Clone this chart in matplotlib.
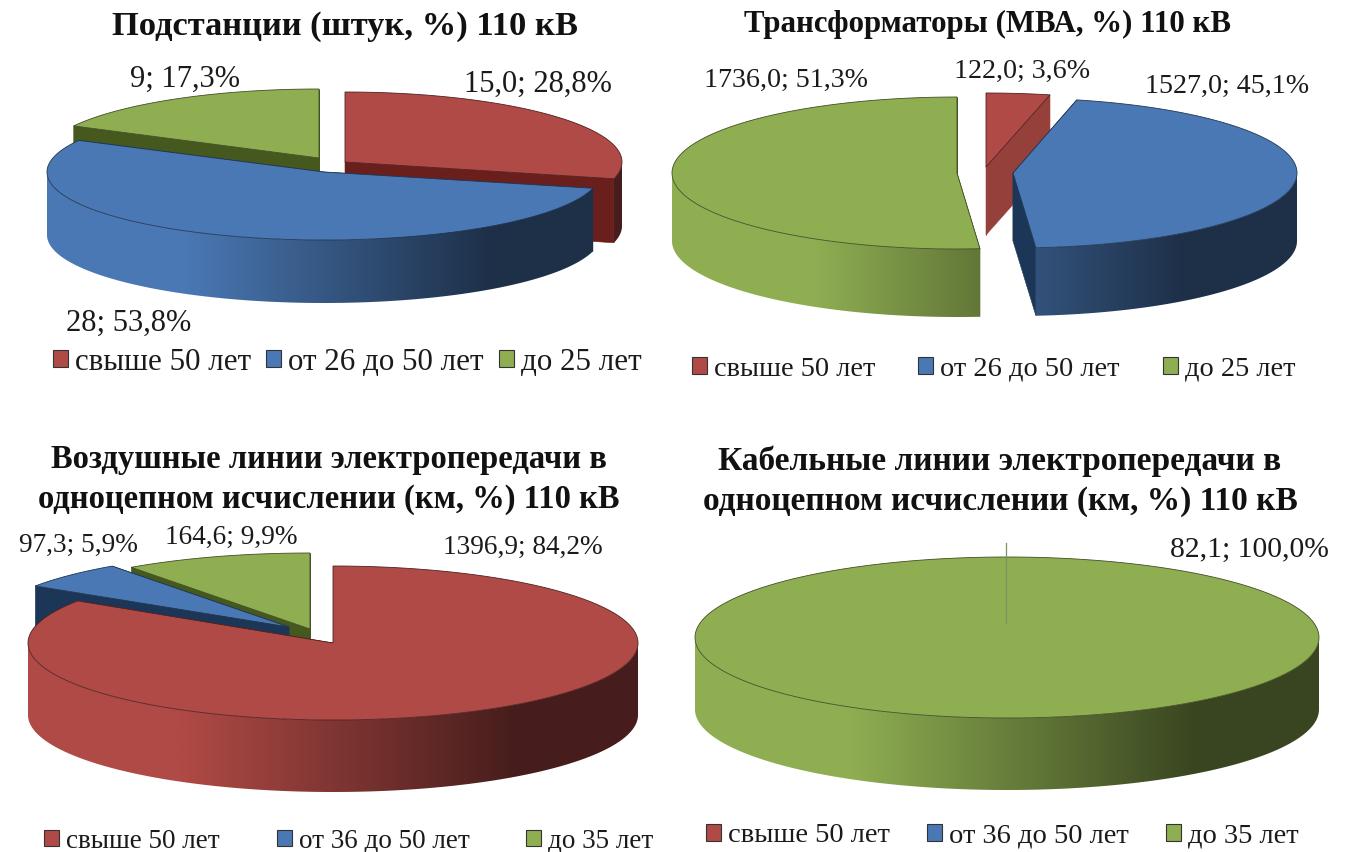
# -*- coding: utf-8 -*-
import matplotlib
matplotlib.use('Agg')
import matplotlib.pyplot as plt
import numpy as np
from matplotlib.colors import to_rgb
from matplotlib.patches import Patch, Polygon

plt.rcParams['font.family'] = ['Liberation Serif', 'DejaVu Serif']

# Data
titles = ['Подстанции (штук, %) 110 кВ',
          'Трансформаторы (МВА, %) 110 кВ',
          'Воздушные линии электропередачи в\nодноцепном исчислении (км, %) 110 кВ',
          'Кабельные линии электропередачи в\nодноцепном исчислении (км, %) 110 кВ']
legend_a = ['свыше 50 лет', 'от 26 до 50 лет', 'до 25 лет']
legend_b = ['свыше 50 лет', 'от 36 до 50 лет', 'до 35 лет']

sub_values = [15.0, 28, 9]
sub_labels = ['15,0; 28,8%', '28; 53,8%', '9; 17,3%']
trans_values = [122.0, 1527.0, 1736.0]
trans_labels = ['122,0; 3,6%', '1527,0; 45,1%', '1736,0; 51,3%']
air_values = [1396.9, 97.3, 164.6]
air_labels = ['1396,9; 84,2%', '97,3; 5,9%', '164,6; 9,9%']
cable_values = [82.1]
cable_labels = ['82,1; 100,0%']

# Colours
RED, BLUE, GREEN = '#b04a46', '#4a78b4', '#8fae52'
CUT_RED, CUT_BLUE, CUT_GREEN = '#6b1f1c', '#1c3658', '#45591f'

fig = plt.figure(figsize=(13.52, 8.52), dpi=100)
ax = fig.add_axes([0, 0, 1, 1])


def shade(color, u):
    # outer wall gets darker from left to right
    t = np.clip((u - 0.25) / 0.55, 0, 1)[:, None]
    return np.array(to_rgb(color))[None, :] * (1 - 0.6 * t)


def rim(cx, cy, rx, ry, ang):
    return cx + rx * np.sin(ang), cy - ry * np.cos(ang)


def draw_slice(start, end, cx, cy, rx, ry, depth, color, cut, z):
    t1, t2 = np.radians(start), np.radians(end)
    edge = tuple(c * 0.45 for c in to_rgb(color))
    arc = np.linspace(t1, t2, 200)
    x, y = rim(cx, cy, rx, ry, arc)
    full = end - start >= 359.9

    # cut faces
    if not full:
        for a in (t1, t2):
            px, py = rim(cx, cy, rx, ry, a)
            ax.add_patch(Polygon([(cx, cy), (px, py), (px, py + depth), (cx, cy + depth)],
                                 closed=True, fc=cut, ec=cut, lw=0.4, zorder=z))

    # outer wall, only the front half of the rim
    w1, w2 = max(start, 90), min(end, 270)
    if w2 > w1:
        a = np.radians(np.linspace(w1, w2, 200))
        wx, wy = rim(cx, cy, rx, ry, a)
        outline = np.vstack([np.column_stack([wx, wy]),
                             np.column_stack([wx[::-1], wy[::-1] + depth])])
        grad = shade(color, np.linspace(0, 1, 400))[None, :, :]
        im = ax.imshow(grad, extent=(cx - rx, cx + rx, cy + ry + depth + 2, cy - ry - 2),
                       aspect='auto', interpolation='bilinear', zorder=z + 0.1)
        im.set_clip_path(Polygon(outline, closed=True, transform=ax.transData))

    # top
    if full:
        pts = np.column_stack([x, y])
    else:
        pts = np.vstack([[cx, cy], np.column_stack([x, y])])
    ax.add_patch(Polygon(pts, closed=True, fc=color, ec=edge, lw=0.6, zorder=z + 0.2))


def draw_pie(values, colors, cuts, geom, order, z):
    shares = np.array(values, dtype=float) / sum(values) * 360
    ends = np.cumsum(shares)
    starts = ends - shares
    for k, i in enumerate(order):
        cx, cy, rx, ry, depth = geom[i]
        draw_slice(starts[i], ends[i], cx, cy, rx, ry, depth, colors[i], cuts[i], z + k)


def add_legend(labels, colors, anchor, size, gap):
    em = size * 100 / 72
    handles = [Patch(fc=c, ec='#333333', lw=0.8) for c in colors]
    fig.legend(handles, labels, ncol=3, loc='center left', bbox_to_anchor=anchor,
               bbox_transform=ax.transData, frameon=False, fontsize=size,
               handlelength=15 / em, handleheight=15 / em, handletextpad=7 / em,
               columnspacing=gap / em, borderpad=0, borderaxespad=0, labelcolor='#1a1a1a')


colors3 = [RED, BLUE, GREEN]
cuts3 = [CUT_RED, CUT_BLUE, CUT_GREEN]

draw_pie(sub_values, colors3, cuts3,
         [(345, 162, 277, 70, 64), (324, 172, 277, 68, 63), (319, 158, 277, 69, 63)],
         [2, 0, 1], 2)
draw_pie(trans_values, colors3, ['#96403c', CUT_BLUE, CUT_GREEN],
         [(986, 167, 285, 74, 68), (1013, 173, 284, 75, 68), (957, 173, 285, 76, 68)],
         [0, 1, 2], 2)
draw_pie(air_values, colors3, cuts3,
         [(333, 643, 305, 77, 72), (289, 627, 303, 75, 72), (310, 629, 306, 76, 72)],
         [2, 1, 0], 2)
draw_pie(cable_values, [GREEN], [CUT_GREEN], [(1007, 637.5, 312, 80.5, 72)], [0], 2)
ax.plot([1006, 1006], [543, 623], color='#7d9560', lw=0.9, zorder=8)

ax.set_xlim(0, 1352)
ax.set_ylim(852, 0)
ax.axis('off')

# Titles
ax.text(345, 26, titles[0], fontsize=24.8, fontweight='bold', ha='center', va='center', color='#111111')
ax.text(988, 24, titles[1], fontsize=22.2, fontweight='bold', ha='center', va='center', color='#111111')
ax.text(329, 479.5, titles[2], fontsize=23.5, fontweight='bold', ha='center', va='center',
        linespacing=1.4, color='#111111')
ax.text(1000, 481, titles[3], fontsize=24, fontweight='bold', ha='center', va='center',
        linespacing=1.35, color='#111111')

# Data labels
label_pos = {
    sub_labels[0]: (538, 84, 22), sub_labels[1]: (129, 323, 22), sub_labels[2]: (185, 79, 22),
    trans_labels[0]: (1022, 71, 20.2), trans_labels[1]: (1227, 86, 20.2), trans_labels[2]: (786, 80, 20.2),
    air_labels[0]: (523, 547, 19.6), air_labels[1]: (78, 545, 19.6), air_labels[2]: (231, 537, 19.6),
    cable_labels[0]: (1249, 550, 21.3),
}
for text, (lx, ly, size) in label_pos.items():
    ax.text(lx, ly, text, fontsize=size, ha='center', va='center', color='#1a1a1a')

# Legends
add_legend(legend_a, colors3, (53, 362), 22.3, 15)
add_legend(legend_a, colors3, (692, 369), 20.4, 43)
add_legend(legend_b, colors3, (44, 841), 19.5, 57)
add_legend(legend_b, colors3, (706, 836), 20.5, 37)

fig.savefig('out.png', dpi=100, facecolor='white')
plt.close(fig)
